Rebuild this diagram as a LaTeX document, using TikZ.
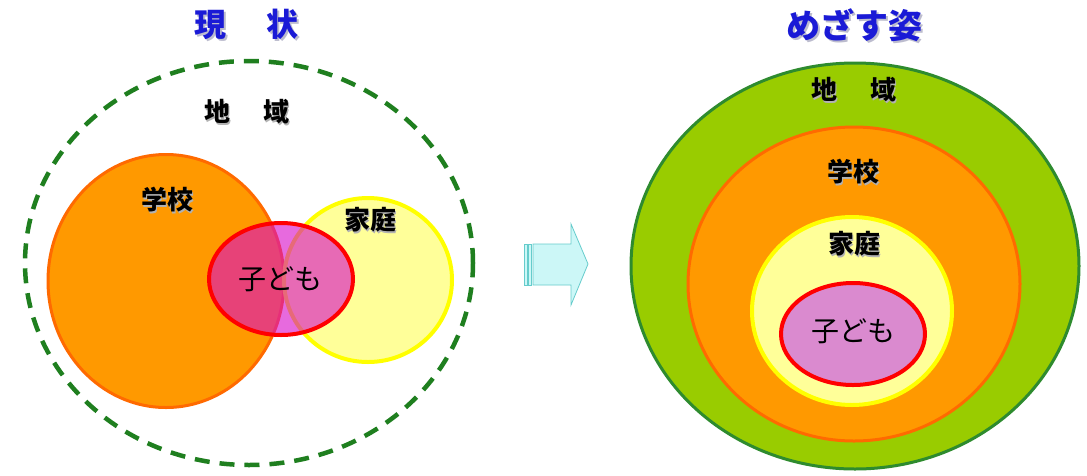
\documentclass[tikz,border=0pt]{standalone}
\usepackage{fontspec}
\newfontfamily\jp{Noto Sans CJK JP}
\usetikzlibrary{shapes.geometric}
\definecolor{dkgreen}{HTML}{1F7F1F}
\definecolor{regiongreen}{HTML}{99CC00}
\definecolor{regionedge}{HTML}{2E8B2E}
\definecolor{orangefill}{HTML}{FF9900}
\definecolor{orangeedge}{HTML}{FF6A00}
\definecolor{yellowfill}{HTML}{FFFF99}
\definecolor{yellowedge}{HTML}{FFFF00}
\definecolor{childfill}{HTML}{D808C8}
\definecolor{childsolid}{HTML}{DA8ACF}
\definecolor{childedge}{HTML}{FF0000}
\definecolor{titleblue}{HTML}{1A1AD6}
\definecolor{arrowfill}{HTML}{CCF7F7}
\definecolor{arrowedge}{HTML}{66CCCC}
\begin{document}
\begin{tikzpicture}[x=1pt,y=-1pt,
  region/.style={ellipse, inner sep=0pt, outer sep=0pt},
  community/.style={region, draw=dkgreen, line width=4.5pt, dash pattern=on 15pt off 10pt},
  communityR/.style={region, draw=regionedge, fill=regiongreen, line width=3pt},
  school/.style={region, draw=orangeedge, fill=orangefill, line width=3pt},
  home/.style={region, draw=yellowedge, fill=yellowfill, line width=4pt},
  child/.style={region, draw=childedge, line width=4pt, fill=childfill, fill opacity=0.6},
  childR/.style={region, draw=childedge, line width=4pt, fill=childsolid},
  lbl/.style={font=\jp\bfseries\fontsize{26}{26}\selectfont, inner sep=0pt, text=black},
  lblshadow/.style={lbl, text=black!30},
  childlbl/.style={font=\jp\fontsize{28}{28}\selectfont, inner sep=0pt, text=black},
  title/.style={font=\jp\bfseries\fontsize{32}{32}\selectfont, inner sep=0pt, text=titleblue},
  titleshadow/.style={title, text=titleblue!20!gray!45}]
\fill[white] (0,0) rectangle (1087,475);
\useasboundingbox (0,0) rectangle (1087,475);

% ---------- left: current state ----------
\node[titleshadow] at (248,26) {現\hspace{40pt}状};
\node[title] (titleL) at (246,24) {現\hspace{40pt}状};

\node[community, minimum width=448pt, minimum height=404pt] (commL) at (249,263) {};
\node[school, minimum width=236pt, minimum height=253pt] (schoolL) at (166,281) {};
\node[home, minimum width=168pt, minimum height=164pt] (homeL) at (368,280) {};
\node[child, minimum width=144pt, minimum height=112pt] (childL) at (281,279) {};

\node[lblshadow] at (248,114) {地\hspace{33pt}域};
\node[lbl] (commLlbl) at (247,112) {地\hspace{33pt}域};
\node[lblshadow] at (168,202) {学校};
\node[lbl] (schoolLlbl) at (167,200) {学校};
\node[lblshadow] at (371,222) {家庭};
\node[lbl] (homeLlbl) at (370,220) {家庭};
\node[childlbl] (childLlbl) at (280,279) {子ども};

% ---------- arrow ----------
\draw[arrowedge, fill=arrowfill, line width=0.8pt]
  (533,244) -- (571,244) -- (571,224) -- (588,264) -- (571,305) -- (571,285) -- (533,285) -- cycle;
\draw[arrowedge, fill=arrowfill, line width=0.6pt] (524,244) rectangle (527,285);
\draw[arrowedge, fill=arrowfill, line width=0.6pt] (528.5,244) rectangle (531.5,285);

% ---------- right: goal ----------
\node[titleshadow, font=\jp\bfseries\fontsize{34}{34}\selectfont] at (856,27) {めざす姿};
\node[title, font=\jp\bfseries\fontsize{34}{34}\selectfont] (titleR) at (854,25) {めざす姿};

\node[communityR, minimum width=448pt, minimum height=406pt] (commR) at (855,266) {};
\node[school, minimum width=332pt, minimum height=314pt] (schoolR) at (854,284) {};
\node[home, minimum width=200pt, minimum height=188pt] (homeR) at (852,311) {};
\node[childR, minimum width=144pt, minimum height=102pt] (childR) at (853,334) {};

\node[lblshadow] at (855,92) {地\hspace{33pt}域};
\node[lbl] (commRlbl) at (854,90) {地\hspace{33pt}域};
\node[lblshadow] at (854,174) {学校};
\node[lbl] (schoolRlbl) at (853,172) {学校};
\node[lblshadow] at (855,246) {家庭};
\node[lbl] (homeRlbl) at (854,244) {家庭};
\node[childlbl] (childRlbl) at (853,331) {子ども};
\end{tikzpicture}
\end{document}
